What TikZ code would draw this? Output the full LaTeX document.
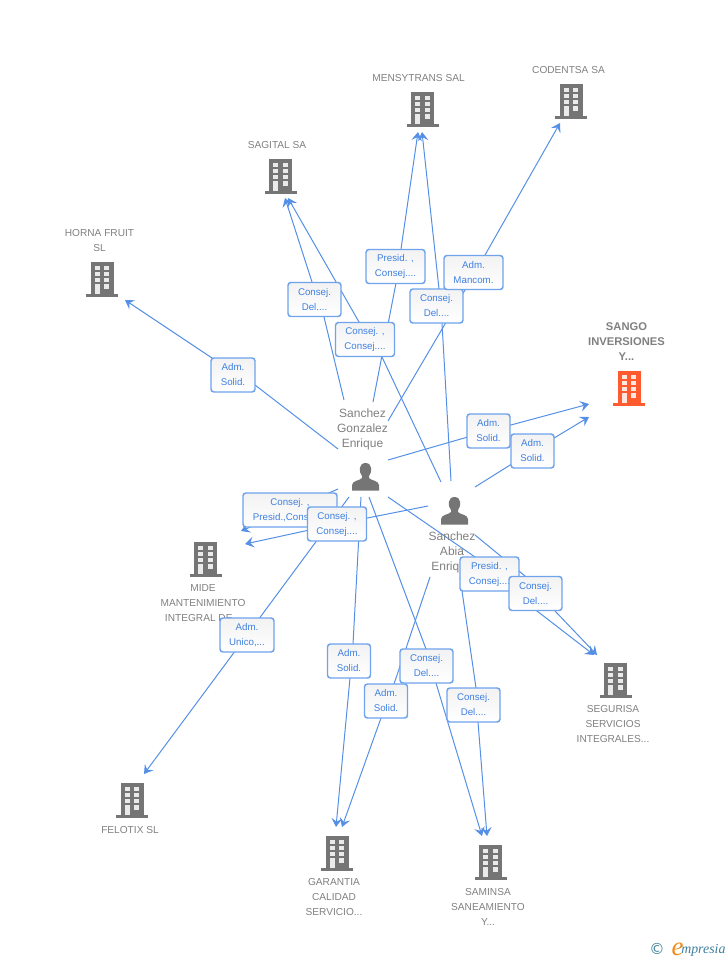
\documentclass[tikz,border=0pt]{standalone}
\usepackage{fontspec}
\setmainfont{Liberation Sans}
\newfontfamily\logofont{Liberation Serif}
\newfontfamily\symfont{DejaVu Sans}
\usetikzlibrary{arrows.meta,backgrounds}
\definecolor{bluetext}{HTML}{3F80E0}
\definecolor{blueline}{HTML}{5590E6}
\definecolor{blueborder}{HTML}{6FA3EC}
\definecolor{iconGray}{HTML}{757575}
\definecolor{nameGray}{HTML}{808080}
\definecolor{iconOrange}{HTML}{FF5B2E}
\definecolor{logoTeal}{HTML}{3D7F9A}
\definecolor{logoOrange}{HTML}{F08A1C}
\tikzset{
  rolebox/.style={draw=blueborder,line width=1.1pt,rounded corners=2.2pt,top color=black!5,bottom color=white,
    text=bluetext,inner sep=0pt,minimum height=25.5pt,align=center,font=\fontsize{7.3}{11.25}\selectfont},
  conn/.style={draw=blueline,line width=0.75pt,line join=round,-{Stealth[length=6.5pt,width=8pt,inset=2.5pt]}},
  orgname/.style={text=nameGray,align=center,inner sep=0pt,font=\fontsize{7.6}{11.25}\selectfont},
  orgmain/.style={orgname,font=\bfseries\fontsize{8.4}{11.25}\selectfont},
  personname/.style={text=nameGray,align=center,inner sep=0pt,font=\fontsize{9}{11.25}\selectfont},
}
\newcommand{\bld}[4]{% name, x, y, colour: centred on (x,y)
  \node[inner sep=0pt,minimum width=24pt,minimum height=26pt] (#1) at (#2,#3) {};
  \begin{scope}[shift={(#2,#3)}]
    \fill[#4] (-11.5,-17) rectangle (11.5,15);
    \fill[#4] (-16,15) rectangle (16,17.5);
    \foreach \yy in {-13,-7,-1} {
      \fill[white!85!#4] (-7.5,\yy) rectangle (-2.5,\yy+4);
      \fill[white!85!#4] (2,\yy) rectangle (7,\yy+4);
    }
    \fill[white!85!#4] (-7.5,5) rectangle (-2.5,15);
    \fill[white!85!#4] (2,5) rectangle (7,9.5);
  \end{scope}
}
\newcommand{\psn}[3]{% name, x, y
  \node[inner sep=0pt,minimum width=20pt,minimum height=20pt] (#1) at (#2,#3) {};
  \begin{scope}[shift={(#2,#3)}]
    \fill[iconGray] (-13.5,13.5) -- (-13.5,8) .. controls (-13.5,3.5) and (-5,3.5) .. (-3.5,1)
      -- (-3.5,-1) .. controls (-7,-5) and (-7,-14) .. (0,-14) .. controls (7,-14) and (7,-5) .. (3.5,-1)
      -- (3.5,1) .. controls (5,3.5) and (13.5,3.5) .. (13.5,8) -- (13.5,13.5) -- cycle;
  \end{scope}
}
% label name, centre x, y, width, text
\newcommand{\lab}[5]{\node[rolebox,minimum width=#4*0.75pt] (#1) at (#2,#3) {#5};}
% label name, start x,y, end x,y : straight through the label
\newcommand{\link}[5]{%
  \coordinate (#1s) at (#2,#3); \coordinate (#1e) at (#4,#5);
  \begin{scope}[on background layer]\draw[conn] (#1s) -- (#1.center) -- (#1e);\end{scope}}
% label name, start, entry and exit under the label, end
\newcommand{\linkv}[9]{%
  \coordinate (#1s) at (#2,#3); \coordinate (#1a) at (#4,#5); \coordinate (#1b) at (#6,#7);
  \coordinate (#1e) at (#8,#9);
  \begin{scope}[on background layer]\draw[conn] (#1s) -- (#1a) -- (#1b) -- (#1e);\end{scope}}
\begin{document}
\begin{tikzpicture}[x=0.75pt,y=-0.75pt]
\useasboundingbox (0,0) rectangle (728,960);
% buildings
\bld{horna}{102}{279}{iconGray}
\bld{sagital}{280.5}{176}{iconGray}
\bld{mensy}{422.5}{109}{iconGray}
\bld{codentsa}{571}{101}{iconGray}
\bld{sango}{629}{388}{iconOrange}
\bld{mide}{205.5}{559}{iconGray}
\bld{segurisa}{615.5}{680}{iconGray}
\bld{felotix}{132}{800}{iconGray}
\bld{garantia}{337}{853}{iconGray}
\bld{saminsa}{490.5}{862}{iconGray}
% names
\node[orgname] (hornat) at (99.5,241) {HORNA FRUIT\\SL};
\node[orgname] (sagitalt) at (277,145) {SAGITAL SA};
\node[orgname] (mensyt) at (418.5,78) {MENSYTRANS SAL};
\node[orgname] (codentsat) at (568.5,70) {CODENTSA SA};
\node[orgmain] (sangot) at (626.5,342) {SANGO\\INVERSIONES\\Y...};
\node[orgname] (midet) at (203,603) {MIDE\\MANTENIMIENTO\\INTEGRAL DE...};
\node[orgname] (segurisat) at (613,724) {SEGURISA\\SERVICIOS\\INTEGRALES...};
\node[orgname] (felotixt) at (130,830) {FELOTIX SL};
\node[orgname] (garantiat) at (334,897) {GARANTIA\\CALIDAD\\SERVICIO...};
\node[orgname] (saminsat) at (488,907) {SAMINSA\\SANEAMIENTO\\Y...};
% persons
\psn{gonzalez}{365.5}{477}
\psn{abia}{454.5}{511}
\node[personname] (gonzalezt) at (362.5,429) {Sanchez\\Gonzalez\\Enrique};
\node[personname] (abiat) at (452,552) {Sanchez\\Abia\\Enrique};
% role labels
\lab{a}{233}{375}{44}{Adm.\\Solid.}
\lab{b}{314.5}{299.5}{53}{Consej.\\Del....}
\lab{d}{395.5}{266.5}{59}{Presid. ,\\Consej....}
\lab{e}{436.5}{306}{53}{Consej.\\Del....}
\lab{f}{473.5}{272.5}{59}{Adm.\\Mancom.}
\lab{c}{365}{339.5}{59}{Consej. ,\\Consej....}
\lab{g}{488.5}{431}{43}{Adm.\\Solid.}
\lab{h}{532.5}{451}{43}{Adm.\\Solid.}
\lab{i}{290}{510}{94}{Consej. ,\\Presid.,Consej....}
\lab{j}{337}{524}{59}{Consej. ,\\Consej....}
\lab{k}{247}{635}{54}{Adm.\\Unico,...}
\lab{l}{349}{661}{43}{Adm.\\Solid.}
\lab{n}{426.5}{666}{53}{Consej.\\Del....}
\lab{m}{386}{701}{43}{Adm.\\Solid.}
\lab{o}{473.5}{705}{53}{Consej.\\Del....}
\lab{p}{489.5}{574}{59}{Presid. ,\\Consej....}
\lab{q}{535.5}{593.5}{53}{Consej.\\Del....}
% connectors
\linkv{a}{338}{449}{255}{385}{212}{358}{125}{300}
\linkv{b}{344}{400}{324}{317}{312}{282}{285}{198}
\linkv{c}{441}{482}{382}{357}{359}{322}{288}{198}
\linkv{d}{373}{402}{396}{283}{401}{249}{418}{132}
\linkv{e}{451}{481}{442}{323}{439}{289}{422}{132}
\linkv{f}{388}{421}{465}{290}{485}{255}{560}{123}
\link{g}{388}{460}{589}{404}
\link{h}{475}{487}{589}{417}
\link{i}{338}{489}{241}{531}
\link{j}{428}{506}{245}{544}
\link{k}{349}{497}{144}{774}
\linkv{l}{361}{497}{353}{644}{350}{678}{336}{827}
\linkv{m}{430}{577}{394}{684}{381}{718}{342}{827}
\linkv{n}{369}{497}{426}{649}{436}{683}{482}{836}
\linkv{o}{460}{577}{476}{688}{478}{722}{487}{836}
\linkv{p}{388}{497}{475}{557}{537}{611}{594}{655}
\linkv{q}{475}{535}{525}{576}{555}{611}{597}{655}
% logo
\node[inner sep=0pt,text=logoTeal,font=\symfont\fontsize{11.5}{11.5}\selectfont] (logoc) at (657,949) {©};
\node[inner sep=0pt,anchor=base,text=logoOrange,font=\logofont\itshape\fontsize{20}{20}\selectfont] (logoe) at (677.5,955) {e};
\node[inner sep=0pt,anchor=base west,text=logoTeal,font=\logofont\itshape\fontsize{10.4}{10.4}\selectfont] (logom) at (681,953) {mpresia};
\end{tikzpicture}
\end{document}
